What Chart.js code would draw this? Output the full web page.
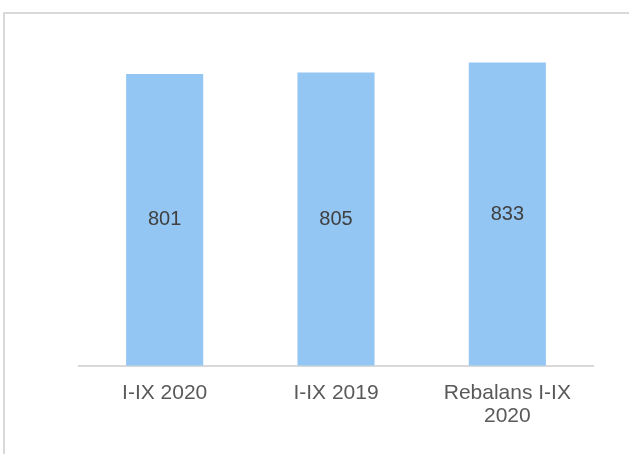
<!DOCTYPE html>
<html>
<head>
<meta charset="utf-8">
<script src="https://cdn.jsdelivr.net/npm/chart.js@4/dist/chart.umd.min.js"></script>
<style>
  html, body { margin: 0; padding: 0; background: #fff; }
  #wrap { width: 629px; height: 454px; position: relative; }
</style>
</head>
<body>
<div id="wrap"><canvas id="c"></canvas></div>
<script>
// categorias y valores
const categorias = ['I-IX 2020', 'I-IX 2019', ['Rebalans I-IX', '2020']];
const valores = [801, 805, 833];
const yMin = 0;
const yMax = 900;

// marco gris (solo se ven arriba e izquierda)
const marco = {
	id: 'marco',
	beforeDraw(chart) {
		const c = chart.ctx;
		c.save();
		c.strokeStyle = '#d9d9d9';
		c.lineWidth = 2;
		c.beginPath();
		c.moveTo(4, 460);
		c.lineTo(4, 13);
		c.lineTo(640, 13);
		c.stroke();
		c.restore();
	}
};

// etiqueta del valor en el centro de cada barra
const etiquetas = {
	id: 'etiquetas',
	afterDatasetsDraw(chart) {
		const c = chart.ctx;
		const meta = chart.getDatasetMeta(0);
		c.save();
		c.font = '20px "Liberation Sans", Arial, sans-serif';
		c.fillStyle = '#404040';
		c.textAlign = 'center';
		c.textBaseline = 'middle';
		meta.data.forEach((bar, i) => {
			const p = bar.getProps(['x', 'y', 'base'], true);
			c.fillText(String(valores[i]), p.x, (p.y + p.base) / 2);
		});
		c.restore();
	}
};

new Chart(document.getElementById('c'), {
	type: 'bar',
	data: {
		labels: categorias,
		datasets: [
			{
				data: valores,
				backgroundColor: '#93c6f3',
				borderWidth: 0,
				barPercentage: 0.45,
				categoryPercentage: 1
			}
		]
	},
	options: {
		responsive: true,
		maintainAspectRatio: false,
		animation: false,
		layout: {
			padding: { left: 79, right: 36, top: 38, bottom: 18 }
		},
		plugins: {
			legend: { display: false },
			tooltip: { enabled: false }
		},
		scales: {
			x: {
				grid: { display: false },
				border: { display: true, color: '#d9d9d9', width: 2 },
				ticks: {
					color: '#595959',
					padding: 8,
					maxRotation: 0,
					font: { family: '"Liberation Sans", Arial, sans-serif', size: 21, lineHeight: 1.1 }
				}
			},
			y: {
				display: false,
				min: yMin,
				max: yMax
			}
		}
	},
	plugins: [marco, etiquetas]
});
</script>
</body>
</html>
